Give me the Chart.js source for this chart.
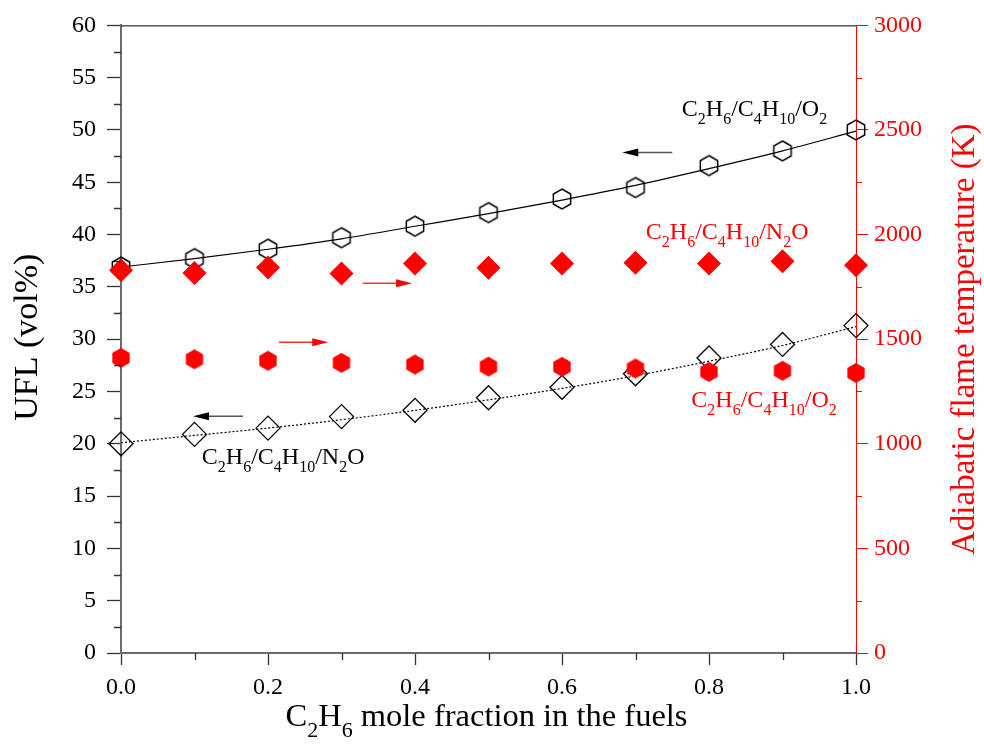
<!DOCTYPE html>
<html>
<head>
<meta charset="utf-8">
<script src="https://cdn.jsdelivr.net/npm/chart.js@4.4.0/dist/chart.umd.min.js"></script>
<style>
  html, body { margin: 0; padding: 0; background: #fff; }
  #chart { display: block; }
</style>
</head>
<body>
<canvas id="chart" width="984" height="745"></canvas>
<script>
// C2H6 mole fraction in the fuels
const fractions = [0.0, 0.1, 0.2, 0.3, 0.4, 0.5, 0.6, 0.7, 0.8, 0.9, 1.0];

// UFL (vol%) - left axis
const uflO2 = [36.9, 37.7, 38.6, 39.7, 40.8, 42.1, 43.4, 44.5, 46.6, 48.0, 50.0];
const uflN2O = [20.0, 20.9, 21.5, 22.6, 23.2, 24.4, 25.4, 26.7, 28.2, 29.5, 31.3];

// fitted curves through the UFL points
const fitO2 = [36.9, 37.7, 38.6, 39.6, 40.8, 42.0, 43.3, 44.7, 46.3, 48.0, 49.9];
const fitN2O = [20.1, 20.8, 21.5, 22.3, 23.2, 24.2, 25.3, 26.5, 27.9, 29.4, 31.2];

// adiabatic flame temperature (K) - right axis
const tempN2O = [1830, 1817, 1843, 1814, 1862, 1841, 1862, 1866, 1862, 1873, 1853];
const tempO2 = [1411, 1404, 1397, 1387, 1379, 1369, 1368, 1360, 1344, 1349, 1339];

// ticks
const xTicks = [0, 0.2, 0.4, 0.6, 0.8, 1.0];
const xMinor = [0.1, 0.3, 0.5, 0.7, 0.9];
const uflTicks = [0, 5, 10, 15, 20, 25, 30, 35, 40, 45, 50, 55, 60];
const uflMinor = [2.5, 7.5, 12.5, 17.5, 22.5, 27.5, 32.5, 37.5, 42.5, 47.5, 52.5, 57.5];
const tempTicks = [0, 500, 1000, 1500, 2000, 2500, 3000];
const tempMinor = [250, 750, 1250, 1750, 2250, 2750];

// text labels (even parts normal, odd parts subscript), placed in x / UFL units
const seriesNotes = [
    { parts: ['C', '2', 'H', '6', '/C', '4', 'H', '10', '/O', '2'], x: 0.763, y: 51.3, color: '#000' },
    { parts: ['C', '2', 'H', '6', '/C', '4', 'H', '10', '/N', '2', 'O'], x: 0.714, y: 39.55, color: '#ff0000' },
    { parts: ['C', '2', 'H', '6', '/C', '4', 'H', '10', '/O', '2'], x: 0.776, y: 23.5, color: '#ff0000' },
    { parts: ['C', '2', 'H', '6', '/C', '4', 'H', '10', '/N', '2', 'O'], x: 0.110, y: 18.06, color: '#000' }
];

// arrows pointing to the axis each series belongs to
const arrows = [
    { from: [0.750, 47.86], to: [0.682, 47.86], line: '#555', head: '#000' },
    { from: [0.329, 35.35], to: [0.396, 35.35], line: '#ff3333', head: '#ff0000' },
    { from: [0.215, 29.71], to: [0.282, 29.71], line: '#ff3333', head: '#ff0000' },
    { from: [0.166, 22.64], to: [0.098, 22.64], line: '#555', head: '#000' }
];

const RED = '#ff0000';
const SERIF = '"Liberation Serif", "Times New Roman", serif';

const toPoints = (ys) => fractions.map((x, i) => ({ x, y: ys[i] }));

// hexagon marker as an image (pointy top)
const hexagon = (r, fill, stroke, lw) => {
    const size = Math.ceil(2 * r + lw + 4);
    const c = document.createElement('canvas');
    c.width = size;
    c.height = size;
    const g = c.getContext('2d');
    g.translate(size / 2, size / 2);
    g.beginPath();
    for (let k = 0; k < 6; k++) {
        const a = -Math.PI / 2 + k * Math.PI / 3;
        const px = r * Math.cos(a), py = r * Math.sin(a);
        if (k === 0) g.moveTo(px, py); else g.lineTo(px, py);
    }
    g.closePath();
    if (fill) { g.fillStyle = fill; g.fill(); }
    if (stroke) { g.strokeStyle = stroke; g.lineWidth = lw; g.stroke(); }
    return c;
};

const openHex = hexagon(10, null, '#000', 1.5);
const redHex = hexagon(10, RED, null, 0);

// draw text with subscripts, returns width
const drawChem = (ctx, parts, x, y, size, color, measureOnly) => {
    const sub = Math.round(size * 0.68);
    let cx = x;
    parts.forEach((p, i) => {
        const isSub = i % 2 === 1;
        ctx.font = `${isSub ? sub : size}px ${SERIF}`;
        if (!measureOnly) {
            ctx.fillStyle = color;
            ctx.fillText(p, cx, isSub ? y + size * 0.33 : y);
        }
        cx += ctx.measureText(p).width;
    });
    return cx - x;
};

const decorations = {
    id: 'decorations',
    afterDraw(chart) {
        const { ctx, chartArea: area, scales } = chart;
        const sx = scales.x, sy = scales.y, sy2 = scales.y2;
        ctx.save();

        // top frame line
        ctx.strokeStyle = '#000';
        ctx.lineWidth = 1;
        ctx.beginPath();
        ctx.moveTo(area.left, area.top + 0.5);
        ctx.lineTo(area.right, area.top + 0.5);
        ctx.stroke();

        // minor ticks
        ctx.lineWidth = 1.3;
        ctx.strokeStyle = '#333';
        ctx.beginPath();
        uflMinor.forEach(v => {
            const py = Math.round(sy.getPixelForValue(v)) + 0.5;
            ctx.moveTo(area.left - 7, py);
            ctx.lineTo(area.left, py);
        });
        xMinor.forEach(v => {
            const px = Math.round(sx.getPixelForValue(v)) + 0.5;
            ctx.moveTo(px, area.bottom);
            ctx.lineTo(px, area.bottom + 7);
        });
        ctx.stroke();
        ctx.strokeStyle = RED;
        ctx.lineWidth = 1;
        ctx.beginPath();
        tempMinor.forEach(v => {
            const py = Math.round(sy2.getPixelForValue(v)) + 0.5;
            ctx.moveTo(area.right, py);
            ctx.lineTo(area.right + 6, py);
        });
        ctx.stroke();

        // arrows
        arrows.forEach(a => {
            const x1 = sx.getPixelForValue(a.from[0]), y1 = sy.getPixelForValue(a.from[1]);
            const x2 = sx.getPixelForValue(a.to[0]), y2 = sy.getPixelForValue(a.to[1]);
            const dir = Math.sign(x2 - x1);
            ctx.strokeStyle = a.line;
            ctx.lineWidth = 1.5;
            ctx.beginPath();
            ctx.moveTo(x1, y1);
            ctx.lineTo(x2 - dir * 10, y2);
            ctx.stroke();
            ctx.fillStyle = a.head;
            ctx.beginPath();
            ctx.moveTo(x2, y2);
            ctx.lineTo(x2 - dir * 16, y2 - 4);
            ctx.lineTo(x2 - dir * 16, y2 + 4);
            ctx.closePath();
            ctx.fill();
        });

        // series labels
        ctx.textBaseline = 'alphabetic';
        ctx.textAlign = 'left';
        seriesNotes.forEach(n => {
            drawChem(ctx, n.parts, sx.getPixelForValue(n.x), sy.getPixelForValue(n.y), 24, n.color);
        });

        // axis titles
        const midY = (area.top + area.bottom) / 2;
        ctx.textAlign = 'center';
        ctx.fillStyle = '#000';
        ctx.font = `34px ${SERIF}`;
        ctx.save();
        ctx.translate(37, midY - 2);
        ctx.rotate(-Math.PI / 2);
        ctx.fillText('UFL (vol%)', 0, 0);
        ctx.restore();

        ctx.fillStyle = RED;
        ctx.font = `33px ${SERIF}`;
        ctx.save();
        ctx.translate(974, midY);
        ctx.rotate(-Math.PI / 2);
        ctx.fillText('Adiabatic flame temperature (K)', 0, 0);
        ctx.restore();

        ctx.textAlign = 'left';
        const xParts = ['C', '2', 'H', '6', ' mole fraction in the fuels'];
        const w = drawChem(ctx, xParts, 0, 0, 32.5, '#000', true);
        drawChem(ctx, xParts, (area.left + area.right) / 2 - 2 - w / 2, 726, 32.5, '#000');

        ctx.restore();
    }
};

const tickFont = { family: SERIF, size: 24 };

new Chart(document.getElementById('chart'), {
    type: 'scatter',
    data: {
        datasets: [
            {
                label: 'T C2H6/C4H10/N2O',
                data: toPoints(tempN2O),
                yAxisID: 'y2',
                pointStyle: 'rectRot',
                pointRadius: 12,
                backgroundColor: RED,
                borderColor: RED,
                borderWidth: 0,
                clip: false
            },
            {
                label: 'T C2H6/C4H10/O2',
                data: toPoints(tempO2),
                yAxisID: 'y2',
                pointStyle: redHex,
                clip: false
            },
            {
                label: 'UFL C2H6/C4H10/O2',
                data: toPoints(uflO2),
                yAxisID: 'y',
                pointStyle: openHex,
                clip: false
            },
            {
                label: 'UFL C2H6/C4H10/N2O',
                data: toPoints(uflN2O),
                yAxisID: 'y',
                pointStyle: 'rectRot',
                pointRadius: 12,
                backgroundColor: 'rgba(0,0,0,0)',
                borderColor: '#000',
                borderWidth: 1.3,
                clip: false
            },
            {
                label: 'fit O2',
                data: toPoints(fitO2),
                yAxisID: 'y',
                showLine: true,
                pointRadius: 0,
                borderColor: '#000',
                borderWidth: 1.2,
                cubicInterpolationMode: 'monotone'
            },
            {
                label: 'fit N2O',
                data: toPoints(fitN2O),
                yAxisID: 'y',
                showLine: true,
                pointRadius: 0,
                borderColor: '#000',
                borderWidth: 1.2,
                borderDash: [2, 2],
                cubicInterpolationMode: 'monotone'
            }
        ]
    },
    options: {
        responsive: false,
        animation: false,
        events: [],
        layout: { padding: { top: 25, left: 0, right: 0, bottom: 0 } },
        plugins: {
            legend: { display: false },
            tooltip: { enabled: false }
        },
        scales: {
            x: {
                type: 'linear',
                position: 'bottom',
                min: 0,
                max: 1,
                afterBuildTicks: s => { s.ticks = xTicks.map(value => ({ value })); },
                afterFit: s => { s.height = 92; },
                grid: { drawOnChartArea: false, drawTicks: true, tickLength: 12, tickColor: '#333', tickWidth: 1.3 },
                border: { color: '#6b6b6b', width: 2 },
                ticks: {
                    font: tickFont,
                    color: '#000',
                    padding: 8,
                    maxRotation: 0,
                    autoSkip: false,
                    callback: v => v.toFixed(1)
                }
            },
            y: {
                position: 'left',
                min: 0,
                max: 60,
                afterBuildTicks: s => { s.ticks = uflTicks.map(value => ({ value })); },
                afterFit: s => { s.width = 121; },
                grid: { drawOnChartArea: false, drawTicks: true, tickLength: 14, tickColor: '#333', tickWidth: 1.3 },
                border: { color: '#6b6b6b', width: 2 },
                ticks: { font: tickFont, color: '#000', padding: 11, callback: v => String(v) }
            },
            y2: {
                position: 'right',
                min: 0,
                max: 3000,
                afterBuildTicks: s => { s.ticks = tempTicks.map(value => ({ value })); },
                afterFit: s => { s.width = 128; },
                grid: { drawOnChartArea: false, drawTicks: true, tickLength: 12, tickColor: RED, tickWidth: 1 },
                border: { color: RED, width: 1 },
                ticks: { font: tickFont, color: RED, padding: 6, callback: v => String(v) }
            }
        }
    },
    plugins: [decorations]
});
</script>
</body>
</html>
